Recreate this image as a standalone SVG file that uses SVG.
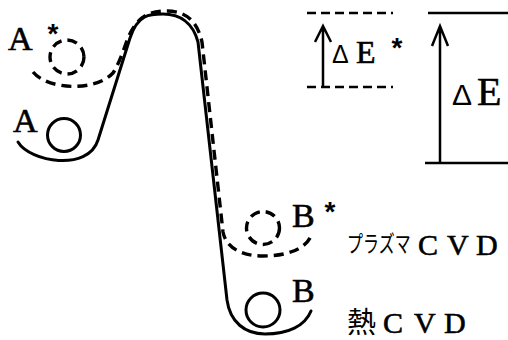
<svg xmlns="http://www.w3.org/2000/svg" width="508" height="340" viewBox="0 0 508 340">
<style>
.s{fill:none;stroke:#000;stroke-width:3;stroke-linecap:round;stroke-linejoin:round}
.d{fill:none;stroke:#000;stroke-width:3.4;stroke-dasharray:10 6}
.l{fill:none;stroke:#000;stroke-width:2.5}
.dl{fill:none;stroke:#000;stroke-width:2.5;stroke-dasharray:9 5}
.t{font-family:"Liberation Serif","Times New Roman",serif;fill:#000;stroke:#000;stroke-width:0.6}
.g{font-family:"Liberation Sans",Arial,sans-serif;fill:#000}
.st{font-family:"Liberation Sans",Arial,sans-serif;fill:#000;font-weight:bold}
.j{font-family:"Noto Sans CJK JP","Noto Sans CJK SC",sans-serif;fill:#000}
</style>
<rect width="508" height="340" fill="#fff"/>
<g id="connectors">
<path id="ground" class="s" d="M18,142 C30,162 88,172 98,140 L130,38 C138,14 150,14 163,14 C180,14 193,23 198,42 L227,300 C230,322 245,334 265,334 C288,334 305,326 311,311"/>
<path id="excited" class="d" d="M33,72 C48,90 95,92 113,73 C120,62 124,48 128,38 C138,14 152,11 167,11 C185,11 197,20 202,42 L223,232 C226,248 242,256 263,256 C285,256 305,250 311,236"/>
</g>
<g id="nodeA">
<circle cx="64" cy="135" r="16.5" class="s"/>
<text class="t" x="13" y="132" font-size="34">A</text>
</g>
<g id="nodeAstar">
<circle cx="67" cy="57" r="17" class="d" stroke-dasharray="8 5"/>
<text class="t" x="8" y="50" font-size="34">A</text>
<text class="st" x="53" y="43" font-size="28" text-anchor="middle">*</text>
</g>
<g id="nodeB">
<circle cx="263" cy="310" r="17" class="s"/>
<text class="t" x="292" y="302" font-size="34">B</text>
</g>
<g id="nodeBstar">
<circle cx="263" cy="228" r="16.5" class="d" stroke-dasharray="8 5"/>
<text class="t" x="292" y="227" font-size="34">B</text>
<text class="st" x="330" y="221" font-size="28" text-anchor="middle">*</text>
</g>
<g id="deltaEstar">
<line class="dl" x1="307" y1="13" x2="393" y2="13"/>
<line class="dl" x1="307" y1="87" x2="393" y2="87"/>
<path class="l" d="M323,87 V26 M315,42 L323,26 L331,42"/>
<text class="g" x="332" y="63" font-size="25">Δ</text>
<text class="t" x="356" y="63" font-size="32">E</text>
<text class="st" x="397" y="57" font-size="28" text-anchor="middle">*</text>
</g>
<g id="deltaE">
<line class="l" x1="428" y1="13" x2="508" y2="13"/>
<line class="l" x1="425" y1="163" x2="508" y2="163"/>
<path class="l" d="M440,163 V26 M432,46 L440,26 L448,46"/>
<text class="g" x="452" y="105" font-size="30">Δ</text>
<text class="t" x="477" y="105" font-size="40">E</text>
</g>
<g id="labelPlasma">
<text class="j" transform="translate(347,252) scale(1,1.4)" x="0" y="0" font-size="16">プラズマ</text>
<text class="t" x="418" y="255" font-size="30">C</text>
<text class="t" x="447" y="255" font-size="30">V</text>
<text class="t" x="476" y="255" font-size="30">D</text>
</g>
<g id="labelThermal">
<text class="j" x="347" y="333" font-size="29">熱</text>
<text class="t" x="383" y="333" font-size="30">C</text>
<text class="t" x="414" y="333" font-size="30">V</text>
<text class="t" x="444" y="333" font-size="30">D</text>
</g>
</svg>
